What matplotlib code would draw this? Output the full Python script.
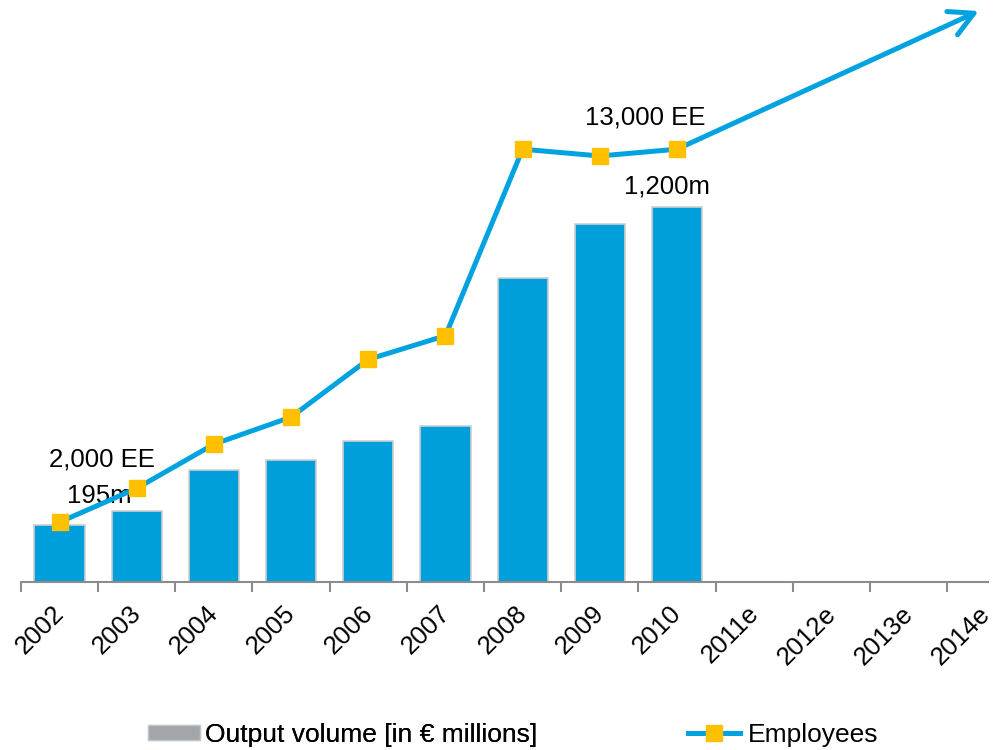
import matplotlib
matplotlib.use("Agg")
import matplotlib.pyplot as plt
from matplotlib.patches import Patch
from matplotlib.lines import Line2D

plt.rcParams['font.family'] = ['Liberation Sans', 'DejaVu Sans']

years = ["2002", "2003", "2004", "2005", "2006", "2007", "2008", "2009", "2010",
         "2011e", "2012e", "2013e", "2014e"]
output_volume = [195, 240, 370, 400, 460, 510, 975, 1145, 1200]   # € millions
employees = [2000, 3000, 4300, 5100, 6800, 7500, 13000, 12800, 13000]
arrow_end = (11.91, 17075)   # trend arrow tip (category index, employees)

bar_color = "#009EDB"
line_color = "#00A3E0"
marker_color = "#FFC000"

fig = plt.figure(figsize=(9.98, 7.5), dpi=100)
ax = fig.add_axes([0.021, 0.224, 0.969, 0.776])
ax2 = ax.twinx()

xb = list(range(len(output_volume)))
ax.bar(xb, output_volume, width=0.65, color=bar_color, edgecolor="#CFCFCF",
       linewidth=1.2, zorder=2)

xl = list(range(len(employees)))
ax2.annotate("", xy=arrow_end, xytext=(xl[-1], employees[-1]),
             arrowprops=dict(arrowstyle="->,head_length=0.86,head_width=0.46",
                             mutation_scale=20, color=line_color, lw=3.6,
                             shrinkA=0, shrinkB=0, capstyle="round",
                             joinstyle="round"))
ax2.plot(xl, employees, color=line_color, lw=3.6, marker="s", ms=11.5,
         mfc=marker_color, mec=marker_color, zorder=3)

ax.set_xlim(-0.5, 12.03)
ax.set_ylim(15.8, 1853.7)
ax2.set_ylim(236, 17400)

# category labels near centres (nudged left so the glyph ends sit on the
# centre), tick marks at the category boundaries
ax.set_xticks([i - 0.1 for i in range(len(years))])
ax.set_xticklabels(years, rotation=45, ha="right", va="top",
                   rotation_mode="anchor", fontsize=18.5)
ax.set_xticks([i - 0.5 for i in range(len(years))], minor=True)
ax.tick_params(axis="x", which="major", length=0, pad=14)
ax.tick_params(axis="x", which="minor", length=7, width=1.5, color="#8C8C8C")
ax.set_yticks([])
ax2.set_yticks([])
for a in (ax, ax2):
    for s in ("left", "right", "top"):
        a.spines[s].set_visible(False)
    a.spines["bottom"].set_visible(False)
ax.spines["bottom"].set_visible(True)
ax.spines["bottom"].set_color("#8C8C8C")
ax.spines["bottom"].set_linewidth(1.5)

ax.text(0.55, 382, "2,000 EE", ha="center", va="baseline", fontsize=18.5)
ax.text(0.52, 265, "195m", ha="center", va="baseline", fontsize=18.5)
ax.text(7.59, 1459, "13,000 EE", ha="center", va="baseline", fontsize=18.5)
ax.text(7.87, 1244, "1,200m", ha="center", va="baseline", fontsize=18.5)

leg1 = fig.legend(handles=[Patch(facecolor="#A2A6AA", edgecolor="#C4C7CA")],
                  labels=["Output volume [in € millions]"],
                  loc="center left", bbox_to_anchor=(148 / 998, 0.02),
                  frameon=False, fontsize=19, handlelength=1.97,
                  handleheight=0.5, handletextpad=0.2, borderpad=0,
                  borderaxespad=0)
fig.legend(handles=[Line2D([], [], color=line_color, lw=3.6, marker="s",
                           ms=11.5, mfc=marker_color, mec=marker_color)],
           labels=["Employees"], loc="center left",
           bbox_to_anchor=(688 / 998, 0.02), frameon=False, fontsize=19,
           handlelength=1.97, handletextpad=0.3, borderpad=0, borderaxespad=0)
fig.add_artist(leg1)

fig.savefig("out.png", dpi=100)
